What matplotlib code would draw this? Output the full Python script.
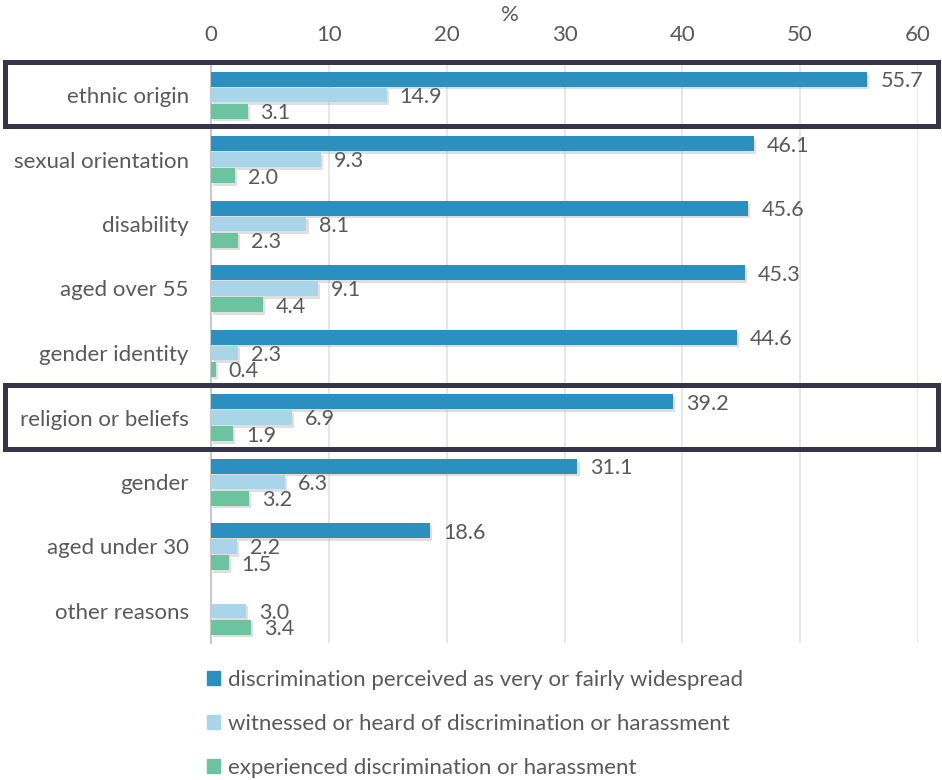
import numpy as np
import matplotlib
matplotlib.use("Agg")
import matplotlib.pyplot as plt
import matplotlib.patheffects as pe
from matplotlib.patches import Rectangle

plt.rcParams['font.family'] = ['Lato', 'DejaVu Sans']

categories = ["ethnic origin", "sexual orientation", "disability", "aged over 55",
              "gender identity", "religion or beliefs", "gender", "aged under 30",
              "other reasons"]
widespread = [55.7, 46.1, 45.6, 45.3, 44.6, 39.2, 31.1, 18.6, np.nan]
witnessed = [14.9, 9.3, 8.1, 9.1, 2.3, 6.9, 6.3, 2.2, 3.0]
experienced = [3.1, 2.0, 2.3, 4.4, 0.4, 1.9, 3.2, 1.5, 3.4]
series_labels = ["discrimination perceived as very or fairly widespread",
                 "witnessed or heard of discrimination or harassment",
                 "experienced discrimination or harassment"]
colors = ["#2b8fbf", "#a8d5ea", "#6cc3a0"]
highlighted = ["ethnic origin", "religion or beliefs"]

W, H = 942, 780
fig = plt.figure(figsize=(W / 100, H / 100), dpi=100)
ax = fig.add_axes([211 / W, 1 - 643.25 / H, (918 - 211) / W, (643.25 - 62.75) / H])

txt = "#595959"
fs = 16
y = np.arange(len(categories))
offsets = [-0.245, 0.0, 0.25]
bh = 0.23
shadow = [pe.SimplePatchShadow(offset=(1.5, -2.0), shadow_rgbFace="#b0b0b0", alpha=0.4),
          pe.Normal()]

handles = []
for vals, off, col, lab in zip([widespread, witnessed, experienced], offsets, colors, series_labels):
    v = np.array(vals, dtype=float)
    bars = ax.barh(y + off, np.nan_to_num(v), height=bh, color=col, label=lab, zorder=3)
    for b, val in zip(bars, v):
        if np.isnan(val):
            b.set_visible(False)
            continue
        b.set_path_effects(shadow)
        ax.text(val + 1.1, b.get_y() + b.get_height() / 2 + 0.03, f"{val:.1f}",
                va="center", ha="left", fontsize=fs - 0.5, color=txt, zorder=4)
    handles.append(bars)

ax.set_xlim(0, 60)
ax.set_ylim(len(categories) - 0.5, -0.5)
ax.set_xticks(range(0, 61, 10))
ax.xaxis.tick_top()
ax.tick_params(axis="x", length=0, pad=13, labelsize=fs, labelcolor=txt)
ax.set_yticks(y)
ax.set_yticklabels(categories)
ax.tick_params(axis="y", length=0, pad=16, labelsize=fs, labelcolor=txt)
ax.grid(axis="x", color="#e3e3e3", lw=1.2, zorder=0)
for s in ["top", "right", "bottom"]:
    ax.spines[s].set_visible(False)
ax.spines["left"].set_color("#c8c8c8")
ax.spines["left"].set_linewidth(1.5)
ax.spines["left"].set_zorder(2)

fig.text(510 / W, 1 - 15 / H, "%", ha="center", va="center", fontsize=fs, color=txt)

# frames around highlighted rows
box_rows = {"ethnic origin": (62.5, 125.5), "religion or beliefs": (385.5, 449.5)}
for name in highlighted:
    top, bot = box_rows[name]
    fig.add_artist(Rectangle((4.5 / W, 1 - bot / H), (937.5 - 4.5) / W, (bot - top) / H,
                             transform=fig.transFigure, fill=False, lw=3.6,
                             ec="#35344a", zorder=10))

leg = fig.legend(handles=[Rectangle((0, 0), 1, 1, color=c) for c in colors],
                 labels=series_labels, loc="upper left",
                 bbox_to_anchor=(196 / W, 1 - 659 / H), frameon=False,
                 fontsize=fs, handlelength=0.6, handleheight=0.6,
                 handletextpad=0.35, labelspacing=1.07, borderpad=0)
for t in leg.get_texts():
    t.set_color(txt)

fig.savefig("out.png", dpi=100)
